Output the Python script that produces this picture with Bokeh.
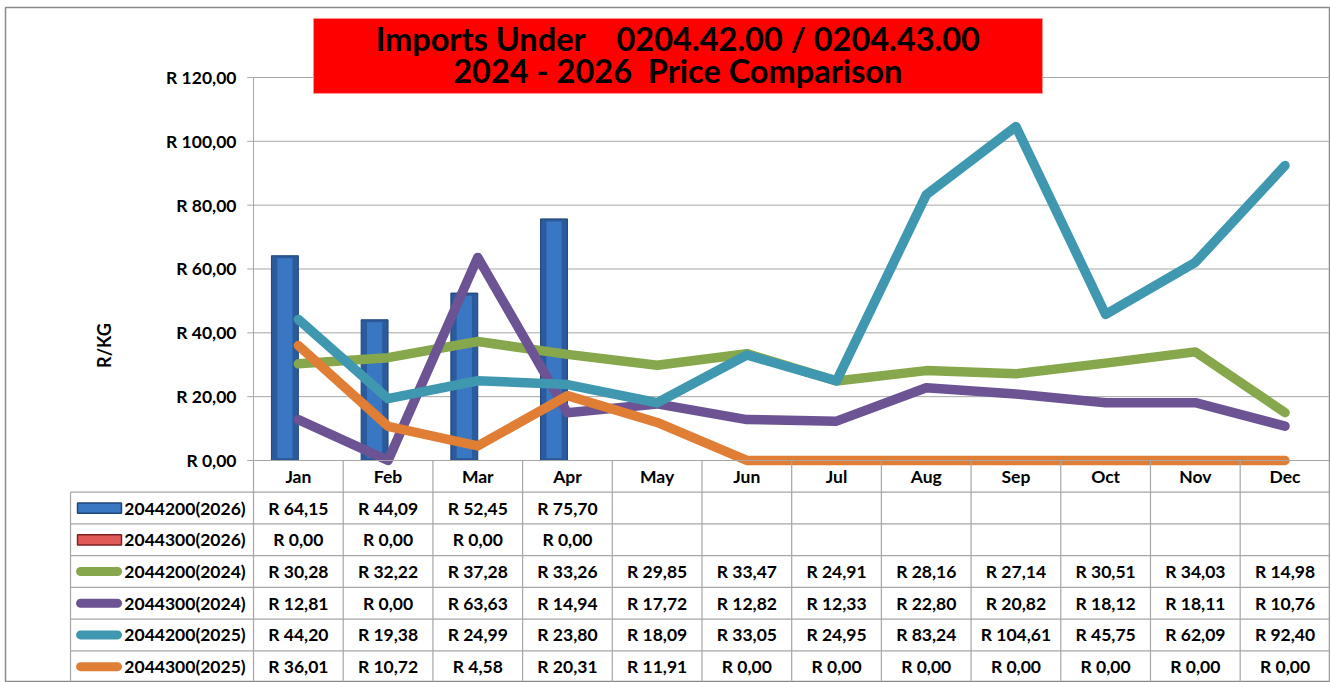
import numpy as np
from bokeh.plotting import figure
from bokeh.models import Range1d
from bokeh.core.properties import value
from bokeh.embed import file_html
from bokeh.resources import INLINE

# ---------------- data ----------------
months = ["Jan", "Feb", "Mar", "Apr", "May", "Jun", "Jul", "Aug", "Sep", "Oct", "Nov", "Dec"]
series_names = ["2044200(2026)", "2044300(2026)", "2044200(2024)",
                "2044300(2024)", "2044200(2025)", "2044300(2025)"]
imp_2044200_2026 = [64.15, 44.09, 52.45, 75.70]
imp_2044300_2026 = [0.00, 0.00, 0.00, 0.00]
imp_2044200_2024 = [30.28, 32.22, 37.28, 33.26, 29.85, 33.47, 24.91, 28.16, 27.14, 30.51, 34.03, 14.98]
imp_2044300_2024 = [12.81, 0.00, 63.63, 14.94, 17.72, 12.82, 12.33, 22.80, 20.82, 18.12, 18.11, 10.76]
imp_2044200_2025 = [44.20, 19.38, 24.99, 23.80, 18.09, 33.05, 24.95, 83.24, 104.61, 45.75, 62.09, 92.40]
imp_2044300_2025 = [36.01, 10.72, 4.58, 20.31, 11.91, 0.00, 0.00, 0.00, 0.00, 0.00, 0.00, 0.00]
y_ticks = [0, 20, 40, 60, 80, 100, 120]
y_axis_title = "R/KG"
title_lines = ["Imports Under" + "\u00a0" * 4 + "0204.42.00 / 0204.43.00",
               "2024 - 2026" + "\u00a0" * 2 + "Price Comparison"]

# ---------------- styles ----------------
BAR_BLUE, BAR_BLUE_EDGE, BAR_BLUE_HI = "#2B5B9C", "#1F4679", "#3A77C2"
BAR_RED, BAR_RED_EDGE = "#E05A58", "#7E2221"
LINE_COLORS = ["#86A74B", "#6C5393", "#3F98AF", "#E07E36"]
GRID = "#A6A6A6"
FONT = value("Lato")
FS = "17.5px"

W, H = 1330, 682
X0, X1 = -2.765, 12.007
ROW = 9.937
Y0, Y1 = -7 * ROW, 141.93

p = figure(width=W, height=H, x_range=Range1d(X0, X1), y_range=Range1d(Y0, Y1),
           min_border_left=5, min_border_top=7, min_border_right=0, min_border_bottom=0,
           toolbar_location=None, output_backend="svg",
           x_axis_location=None, y_axis_location=None,
           background_fill_color="white", border_fill_color="white",
           outline_line_color="#8A8A8A", outline_line_width=1.5)
p.grid.visible = False

n = len(months)
xc = np.arange(n) + 0.5


def rand(v):
    return "R " + f"{v:.2f}".replace(".", ",")


def txt(**kw):
    base = dict(text_font=FONT, text_font_size=FS, text_font_style="bold",
                text_color="black")
    base.update(kw)
    p.text(**base)


# gridlines, axis, ticks
gt = y_ticks[1:]
p.segment(x0=[0] * len(gt), y0=gt, x1=[n] * len(gt), y1=gt, line_color=GRID, line_width=1)
p.segment(x0=[0], y0=[0], x1=[0], y1=[y_ticks[-1]], line_color=GRID, line_width=1)
p.segment(x0=[-0.07] * len(y_ticks), y0=y_ticks, x1=[0] * len(y_ticks), y1=y_ticks,
          line_color=GRID, line_width=1)
txt(x=[-0.19] * len(y_ticks), y=y_ticks, text=[rand(t) for t in y_ticks],
    text_align="right", text_baseline="middle")
txt(x=[-1.672], y=[36], text=[y_axis_title], angle=np.pi / 2,
    text_align="center", text_baseline="middle", text_font_size="18px")

# title box
p.quad(left=[0.669], right=[8.796], bottom=[115.0], top=[138.5],
       fill_color="#FF0000", line_color="#FF9090", line_width=1)
txt(x=[4.73, 4.73], y=[132.3, 122.3], text=title_lines, text_font_size="32.5px",
    text_align="center", text_baseline="alphabetic")

# bars
nb = len(imp_2044200_2026)
p.vbar(x=xc[:nb] - 0.15, top=imp_2044200_2026, width=0.30,
       fill_color=BAR_BLUE, line_color=BAR_BLUE_EDGE, line_width=1)
p.vbar(x=xc[:nb] - 0.15, top=np.array(imp_2044200_2026) - 0.8, bottom=0.8, width=0.17,
       fill_color=BAR_BLUE_HI, line_color=None)
p.vbar(x=xc[:len(imp_2044300_2026)] + 0.15, top=imp_2044300_2026, width=0.30,
       fill_color=BAR_RED, line_color=None)

# lines
line_series = [imp_2044200_2024, imp_2044300_2024, imp_2044200_2025, imp_2044300_2025]
for vals, col in zip(line_series, LINE_COLORS):
    p.line(x=xc[:len(vals)], y=vals, line_color=col, line_width=9.5,
           line_cap="round", line_join="round")

# data table
TL = -2.04
kk = np.arange(0, 8)
p.segment(x0=[0] * len(kk), y0=-kk * ROW, x1=[n] * len(kk), y1=-kk * ROW,
          line_color=GRID, line_width=1.2)
kl = np.arange(1, 8)
p.segment(x0=[TL] * len(kl), y0=-kl * ROW, x1=[0] * len(kl), y1=-kl * ROW,
          line_color=GRID, line_width=1.2)
cols = np.arange(0, n + 1)
p.segment(x0=cols, y0=[0] * len(cols), x1=cols, y1=[-7 * ROW] * len(cols),
          line_color=GRID, line_width=1.2)
p.segment(x0=[TL], y0=[-ROW], x1=[TL], y1=[-7 * ROW], line_color=GRID, line_width=1.2)

txt(x=xc, y=[-0.5 * ROW] * n, text=months, text_align="center", text_baseline="middle")

all_series = [imp_2044200_2026, imp_2044300_2026] + line_series
for r, vals in enumerate(all_series, start=1):
    yr = -(r + 0.5) * ROW
    txt(x=xc[:len(vals)], y=[yr] * len(vals), text=[rand(v) for v in vals],
        text_align="center", text_baseline="middle")

# legend keys
rows_y = [-(r + 0.5) * ROW for r in range(1, 7)]
p.quad(left=[-1.962], right=[-1.472], bottom=[rows_y[0] - 1.6], top=[rows_y[0] + 1.6],
       fill_color=BAR_BLUE_HI, line_color=BAR_BLUE_EDGE, line_width=1.5)
p.quad(left=[-1.962], right=[-1.472], bottom=[rows_y[1] - 1.6], top=[rows_y[1] + 1.6],
       fill_color=BAR_RED, line_color=BAR_RED_EDGE, line_width=1.5)
for yy, col in zip(rows_y[2:], LINE_COLORS):
    p.segment(x0=[-1.928], y0=[yy], x1=[-1.516], y1=[yy], line_color=col,
              line_width=9, line_cap="round")
txt(x=[-1.44] * 6, y=rows_y, text=series_names, text_align="left", text_baseline="middle")

open("out.html", "w").write(file_html(p, INLINE))
